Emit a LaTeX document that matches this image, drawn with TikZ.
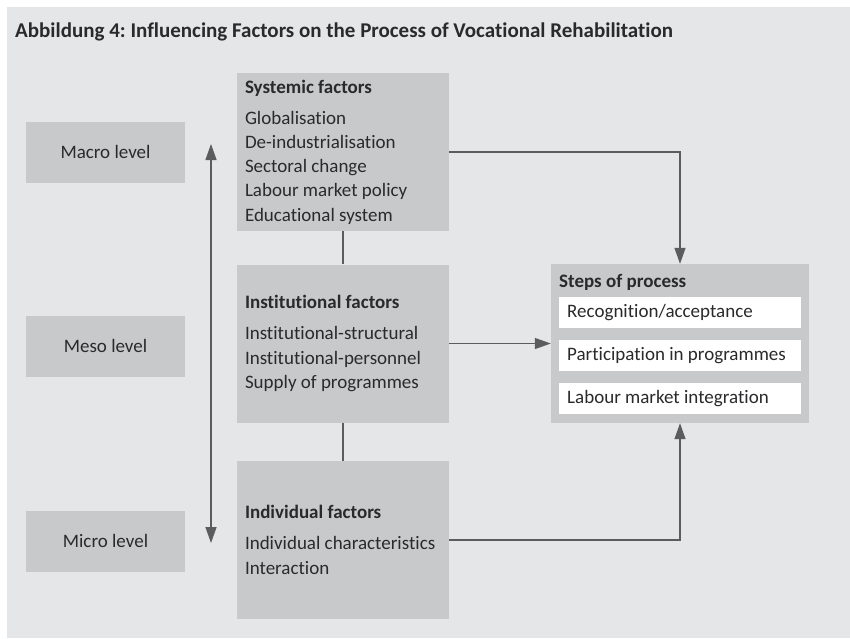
\documentclass[tikz,border=0pt]{standalone}
\usepackage{fontspec}
\setmainfont{Carlito}[Ligatures={NoCommon,NoContextual}]
\usetikzlibrary{arrows.meta}
\definecolor{bgc}{HTML}{E5E6E8}
\definecolor{boxc}{HTML}{C8C9CB}
\definecolor{linec}{HTML}{5B5C5E}
\definecolor{txtc}{HTML}{2A2A2C}
\frenchspacing
\tikzset{
  lvl/.style={fill=boxc, minimum width=159pt, minimum height=61pt, inner sep=0pt, text=txtc, font=\fontsize{19}{22}\selectfont},
  fac/.style={fill=boxc, minimum width=212pt, minimum height=158pt, inner sep=0pt, text=txtc},
  faclist/.style={text width=200pt, align=left, inner sep=0pt, text=txtc, font=\fontsize{19}{24.3}\selectfont},
  stepbg/.style={fill=boxc, minimum width=258pt, minimum height=159pt, inner sep=0pt},
  stepw/.style={fill=white, minimum width=242pt, minimum height=31pt, inner sep=0pt},
  lbl/.style={inner sep=0pt, text=txtc, anchor=west},
  conn/.style={draw=linec, line width=1.3pt},
  arr/.style={conn, -{Triangle[length=16pt,width=11pt]}},
}
\begin{document}
\begin{tikzpicture}[x=1pt,y=-1pt]
\useasboundingbox (0,0) rectangle (850,638);
\fill[bgc] (7,7) rectangle (850,638);
\node[lbl, font=\bfseries\fontsize{21}{22}\selectfont] (title) at (15,32) {Abbildung 4: Influencing Factors on the Process of Vocational Rehabilitation};

% level boxes
\node[lvl] (macro) at (105.5,152) {Macro level};
\node[lvl] (meso)  at (105.5,346) {Meso level};
\node[lvl] (micro) at (105.5,541) {Micro level};

% factor boxes
\node[fac] (sys) at (343,152) {};
\node[fac] (inst) at (343,343.5) {};
\node[fac] (ind) at (343,540) {};
\node[faclist] (systxt) at ([xshift=2pt]sys.center) {\spaceskip=0pt\relax\textbf{Systemic factors}\\[6.7pt]Globalisation\\De-industrialisation\\Sectoral change\\Labour market policy\\Educational system};
\node[faclist] (insttxt) at ([xshift=2pt]inst.center) {\spaceskip=0pt\relax\textbf{Institutional factors}\\[6.7pt]Institutional-structural\\Institutional-personnel\\Supply of programmes};
\node[faclist] (indtxt) at ([xshift=2pt]ind.center) {\spaceskip=0pt\relax\textbf{Individual factors}\\[6.7pt]Individual characteristics\\Interaction};

% steps
\node[stepbg] (steps) at (680,343.5) {};
\node[lbl, font=\bfseries\fontsize{19}{22}\selectfont] (stepstitle) at (559,282) {Steps of process};
\node[stepw] (s1) at (680,312.5) {};
\node[stepw] (s2) at (680,355.5) {};
\node[stepw] (s3) at (680,398.5) {};
\node[lbl, font=\fontsize{19}{22}\selectfont] (s1t) at (567,312.5) {Recognition/acceptance};
\node[lbl, font=\fontsize{19}{22}\selectfont] (s2t) at (567,355.5) {Participation in programmes};
\node[lbl, font=\fontsize{19}{22}\selectfont] (s3t) at (567,398.5) {Labour market integration};

% connectors
\draw[conn] (sys.south) -- (inst.north);
\draw[conn] (inst.south) -- (ind.north);
\draw[arr] (sys.east) -| (steps.north);
\draw[arr] (inst.east) -- (steps.west);
\draw[arr] (ind.east) -| (steps.south);

\coordinate (uptip) at (211,144);
\coordinate (downtip) at (211,543);
\draw[conn, {Triangle[length=16pt,width=11pt]}-{Triangle[length=16pt,width=11pt]}] (uptip) -- (downtip);
\end{tikzpicture}
\end{document}
